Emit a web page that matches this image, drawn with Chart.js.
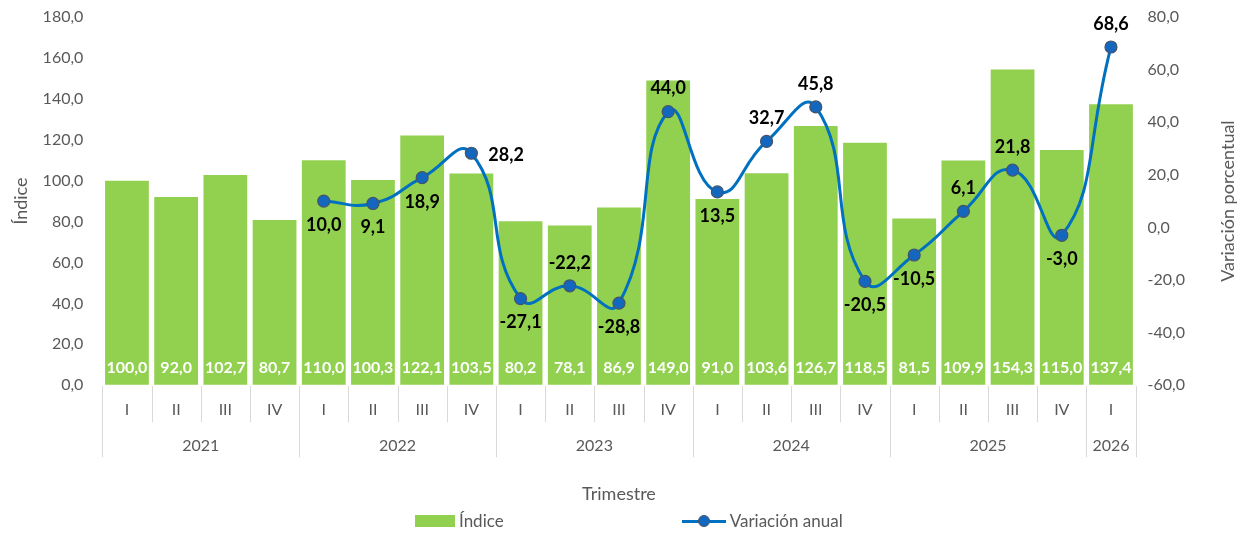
<!DOCTYPE html>
<html lang="es">
<head>
<meta charset="utf-8">
<title>Índice y variación anual por trimestre</title>
<script src="https://cdn.jsdelivr.net/npm/chart.js@4.4.1/dist/chart.umd.min.js"></script>
<style>
    html, body { margin: 0; padding: 0; background: #fff; }
    #wrap { position: relative; width: 1247px; height: 533px; }
    #legend {
        position: absolute; top: 510px; left: 415px;
        display: flex; align-items: center; gap: 178px;
        font: 17px Lato, "Open Sans", sans-serif; color: #595959;
    }
    .item { display: flex; align-items: center; gap: 4px; }
    .box { width: 40px; height: 12px; }
    .lineicon { position: relative; width: 44px; height: 12px; }
    .lineicon .ln { position: absolute; left: 0; right: 0; top: 5px; height: 3px; }
    .lineicon .dot { position: absolute; left: 16px; top: 0; width: 10px; height: 10px; border-radius: 50%; border: 1px solid #44546A; }
</style>
</head>
<body>
<div id="wrap">
    <canvas id="chart" width="1247" height="533"></canvas>
    <div id="legend"></div>
</div>
<script>
"use strict";

var quarters = ['I', 'II', 'III', 'IV', 'I', 'II', 'III', 'IV', 'I', 'II', 'III', 'IV', 'I', 'II', 'III', 'IV', 'I', 'II', 'III', 'IV', 'I'];
var years = ['2021', '2021', '2021', '2021', '2022', '2022', '2022', '2022', '2023', '2023', '2023', '2023',
    '2024', '2024', '2024', '2024', '2025', '2025', '2025', '2025', '2026'];
var indice = [100.0, 92.0, 102.7, 80.7, 110.0, 100.3, 122.1, 103.5, 80.2, 78.1, 86.9, 149.0,
    91.0, 103.6, 126.7, 118.5, 81.5, 109.9, 154.3, 115.0, 137.4];
var variacion = [null, null, null, null, 10.0, 9.1, 18.9, 28.2, -27.1, -22.2, -28.8, 44.0,
    13.5, 32.7, 45.8, -20.5, -10.5, 6.1, 21.8, -3.0, 68.6];

/* where each line label sits around its point */
var labelPlace = [null, null, null, null, 'below', 'below', 'below', 'right', 'below', 'above', 'below', 'above',
    'below', 'above', 'above', 'below', 'below', 'above', 'above', 'below', 'above'];

var FONT = 'Lato, "Open Sans", sans-serif';
var GREEN = '#92D050';
var BLUE = '#0070C0';
var GREY = '#595959';

function fmt(v) {
    return v.toFixed(1).replace('.', ',');
}

/* labels, year groups, separators and the right axis title */
var decorations = {
    id: 'decorations',
    afterDatasetsDraw: function (chart) {
        var ctx = chart.ctx;
        var x = chart.scales.x;
        var yL = chart.scales.y;
        var area = chart.chartArea;
        var bars = chart.getDatasetMeta(0).data;
        var pts = chart.getDatasetMeta(1).data;

        ctx.save();
        // bar values, white, at the foot of each bar
        ctx.font = 'bold 16px ' + FONT;
        ctx.fillStyle = '#ffffff';
        ctx.textAlign = 'center';
        ctx.textBaseline = 'middle';
        var base = yL.getPixelForValue(0);
        bars.forEach(function (b, i) {
            ctx.fillText(fmt(indice[i]), b.x, base - 17);
        });

        // line values
        ctx.font = 'bold 18px ' + FONT;
        ctx.fillStyle = '#000000';
        pts.forEach(function (p, i) {
            if (variacion[i] === null) return;
            var pos = labelPlace[i];
            var tx = p.x, ty = p.y;
            ctx.textAlign = 'center';
            if (pos === 'above') ty = p.y - 23;
            else if (pos === 'below') ty = p.y + 24;
            else if (pos === 'right') { ctx.textAlign = 'left'; tx = p.x + 17; ty = p.y + 2; }
            ctx.fillText(fmt(variacion[i]), tx, ty);
        });

        // separators below the axis
        var step = x.getPixelForValue(1) - x.getPixelForValue(0);
        var bottom = area.bottom + 1;
        ctx.strokeStyle = '#d9d9d9';
        ctx.lineWidth = 1;
        for (var i = 0; i <= quarters.length; i++) {
            var bx = Math.round(x.getPixelForValue(0) - step / 2 + i * step) + 0.5;
            var edge = i === 0 || i === quarters.length || years[i] !== years[i - 1];
            ctx.beginPath();
            ctx.moveTo(bx, bottom);
            ctx.lineTo(bx, bottom + (edge ? 71 : 36));
            ctx.stroke();
        }

        // year labels centred on their quarters
        ctx.font = '16px ' + FONT;
        ctx.fillStyle = GREY;
        ctx.textAlign = 'center';
        var start = 0;
        for (var j = 1; j <= years.length; j++) {
            if (j === years.length || years[j] !== years[start]) {
                var cx = (x.getPixelForValue(start) + x.getPixelForValue(j - 1)) / 2;
                ctx.fillText(years[start], cx, bottom + 60);
                start = j;
            }
        }

        // right axis title, reading bottom to top
        ctx.font = '18px ' + FONT;
        ctx.translate(chart.width - 19, (area.top + area.bottom) / 2);
        ctx.rotate(-Math.PI / 2);
        ctx.fillText('Variación porcentual', 0, 0);
        ctx.restore();
    }
};

/* invisible tick marks give the gap between labels and plot */
var hiddenTicks = function (len) {
    return { display: true, drawOnChartArea: false, drawTicks: true, tickLength: len, color: 'rgba(0,0,0,0)' };
};

document.addEventListener("DOMContentLoaded", function () {
    var ctx = document.getElementById('chart').getContext('2d');

    var config = {
        type: 'bar',
        data: {
            labels: quarters,
            datasets: [{
                type: 'bar',
                label: 'Índice',
                data: indice,
                backgroundColor: GREEN,
                borderWidth: 0,
                barPercentage: 0.89,
                categoryPercentage: 1.0,
                yAxisID: 'y',
                order: 2
            }, {
                type: 'line',
                label: 'Variación anual',
                data: variacion,
                borderColor: BLUE,
                borderWidth: 3,
                tension: 0.5,
                pointRadius: 6,
                pointBackgroundColor: '#1367BF',
                pointBorderColor: '#44546A',
                pointBorderWidth: 1.2,
                fill: false,
                yAxisID: 'y1',
                order: 1
            }]
        },
        options: {
            responsive: false,
            animation: false,
            maintainAspectRatio: false,
            layout: {
                padding: { top: 17, left: 6, right: 55, bottom: 28 }
            },
            plugins: {
                legend: { display: false },
                tooltip: { enabled: false }
            },
            scales: {
                x: {
                    grid: { display: false, drawTicks: false },
                    border: { display: false },
                    ticks: { color: GREY, font: { family: FONT, size: 16 }, padding: 15, maxRotation: 0, autoSkip: false },
                    title: {
                        display: true, text: 'Trimestre', color: GREY,
                        font: { family: FONT, size: 18 }, padding: { top: 49, bottom: 0 }
                    }
                },
                y: {
                    position: 'left',
                    min: 0, max: 180,
                    grid: hiddenTicks(12),
                    border: { display: false },
                    ticks: { stepSize: 20, color: GREY, font: { family: FONT, size: 16 }, padding: 7, callback: function (v) { return fmt(v); } },
                    title: { display: true, text: 'Índice', color: GREY, font: { family: FONT, size: 18 }, padding: 4 }
                },
                y1: {
                    position: 'right',
                    min: -60, max: 80,
                    grid: hiddenTicks(5),
                    border: { display: false },
                    ticks: { stepSize: 20, color: GREY, font: { family: FONT, size: 16 }, padding: 7, callback: function (v) { return fmt(v); } }
                }
            }
        },
        plugins: [decorations]
    };

    var chart = new Chart(ctx, config);

    // legend built from the datasets
    var legend = document.getElementById('legend');
    chart.data.datasets.forEach(function (ds) {
        var item = document.createElement('div');
        item.className = 'item';
        var icon = document.createElement('span');
        if (ds.type === 'bar') {
            icon.className = 'box';
            icon.style.background = ds.backgroundColor;
        } else {
            icon.className = 'lineicon';
            icon.innerHTML = '<span class="ln"></span><span class="dot"></span>';
            icon.firstChild.style.background = ds.borderColor;
            icon.lastChild.style.background = ds.pointBackgroundColor;
        }
        var txt = document.createElement('span');
        txt.textContent = ds.label;
        item.appendChild(icon);
        item.appendChild(txt);
        legend.appendChild(item);
    });
});
</script>
</body>
</html>
